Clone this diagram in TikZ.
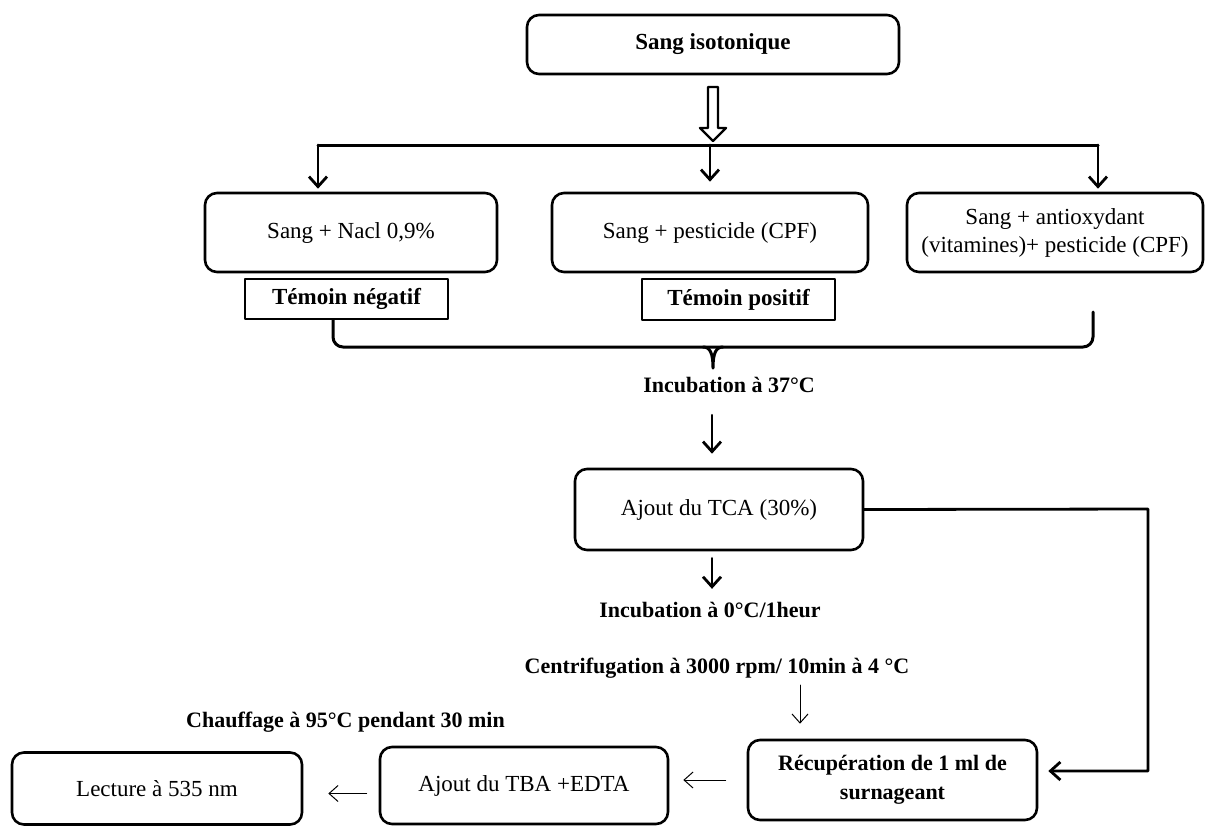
\documentclass[tikz,border=0pt]{standalone}
\usepackage{fontspec}
\setmainfont{Liberation Serif}
\usetikzlibrary{arrows.meta,calc}

\begin{document}
\begin{tikzpicture}[x=0.5pt,y=-0.5pt,line cap=round,line join=round,
    stepbox/.style={draw,rounded corners=6pt,line width=1.3pt,align=center,
      inner sep=2pt,font=\fontsize{11.5}{14}\selectfont},
    tagbox/.style={draw,line width=1.3pt,inner sep=2pt,
      font=\fontsize{11.5}{14}\selectfont\bfseries},
    steplabel/.style={inner sep=2pt,font=\fontsize{11}{13}\selectfont\bfseries},
    flow/.style={-{Straight Barb[length=5pt,width=9pt,line width=1.4pt]},line width=1.4pt},
    fine/.style={-{Straight Barb[length=4.5pt,width=8pt]},line width=.5pt},
    bar/.style={line width=1.5pt}]
    \useasboundingbox (0,0) rectangle (1205,826);

    % The blood sample and the three treated samples.
    \node[stepbox,font=\fontsize{11.5}{14}\selectfont\bfseries,
      minimum width=186pt,minimum height=29.5pt] (iso) at (713,44.5) {Sang isotonique};
    \node[stepbox,minimum width=146pt,minimum height=39.5pt] (nacl) at (351,232.5)
      {Sang + Nacl 0,9\%};
    \node[stepbox,minimum width=158pt,minimum height=39.5pt] (cpf) at (710,232.5)
      {Sang + pesticide (CPF)};
    \node[stepbox,minimum width=148pt,minimum height=39.5pt] (vit) at (1055,232.5)
      {Sang + antioxydant\\(vitamines)+ pesticide (CPF)};
    \node[tagbox,minimum width=101.5pt,minimum height=20pt] (neg) at (346.5,299)
      {Témoin négatif};
    \node[tagbox,minimum width=96.5pt,minimum height=20.5pt] (pos) at (738.5,299.5)
      {Témoin positif};

    % The later steps of the assay.
    \node[steplabel] (inc37) at (729,385) {Incubation à 37°C};
    \node[stepbox,minimum width=144pt,minimum height=40.5pt] (tca) at (719,509.5)
      {Ajout du TCA (30\%)};
    \node[steplabel] (inc0) at (710,610) {Incubation à 0°C/1heur};
    \node[steplabel] (centri) at (717,668) {Centrifugation à 3000 rpm/ 10min à 4 °C};
    \node[stepbox,font=\fontsize{11}{14.5}\selectfont\bfseries,
      minimum width=144.5pt,minimum height=40pt] (recup) at (892.5,780)
      {Récupération de 1 ml de\\surnageant};
    \node[steplabel] (chauf) at (345.5,722) {Chauffage à 95°C pendant 30 min};
    \node[stepbox,minimum width=144pt,minimum height=38.5pt] (tba) at (524,785.5)
      {Ajout du TBA +EDTA};
    \node[stepbox,minimum width=145pt,minimum height=36pt] (lect) at (157,788.5)
      {Lecture à 535 nm};

    % The hollow arrow under the blood sample.
    \draw[line width=1.2pt,fill=white] (708,87) -- (718,87) -- (718,128) -- (726,128)
      -- (713,141) -- (700,128) -- (708,128) -- cycle;

    % The bar sharing the sample out.
    \coordinate (barL) at (318,145);
    \coordinate (barR) at (1098,145);
    \draw[bar] (barL) -- (barR);
    \draw[flow,shorten >=1.5pt] (barL) -- (barL |- nacl.north);
    \draw[flow,shorten >=5pt] (cpf.north |- barL) -- (cpf.north);
    \draw[flow,shorten >=1.5pt] (barR) -- (barR |- vit.north);

    % The brace gathering the three samples.
    \draw[bar,rounded corners=5pt] (333,320) -- (333,347) -- (1093,347) -- (1093,312);
    \draw[bar] (703,347) .. controls (710,347) and (713,353) .. (713,368)
      .. controls (713,353) and (716,347) .. (723,347);

    % The main line of the assay.
    \draw[flow,shorten <=9pt,shorten >=7pt] ([xshift=-3.5pt]tca.north |- inc37.south)
      -- ([xshift=-3.5pt]tca.north);
    \draw[flow,shorten <=3.5pt,shorten >=4.5pt] ([xshift=-3.5pt]tca.south)
      -- ([xshift=-3.5pt]tca.south |- inc0.north);
    \coordinate (turn) at (1148,509);
    \draw[flow,shorten >=5pt] (tca.east) -- (turn) |- ([yshift=4.5pt]recup.east);
    \coordinate (drop) at (800,685);
    \draw[fine,shorten >=7.5pt] (drop) -- (drop |- recup.north);
    \draw[fine,shorten <=10.5pt,shorten >=7pt] (recup.west) -- (recup.west -| tba.east);
    \draw[fine,shorten <=6pt,shorten >=12.5pt] ([yshift=-4pt]tba.west)
      -- ([yshift=-4pt]tba.west -| lect.east);
  \end{tikzpicture}
\end{document}
